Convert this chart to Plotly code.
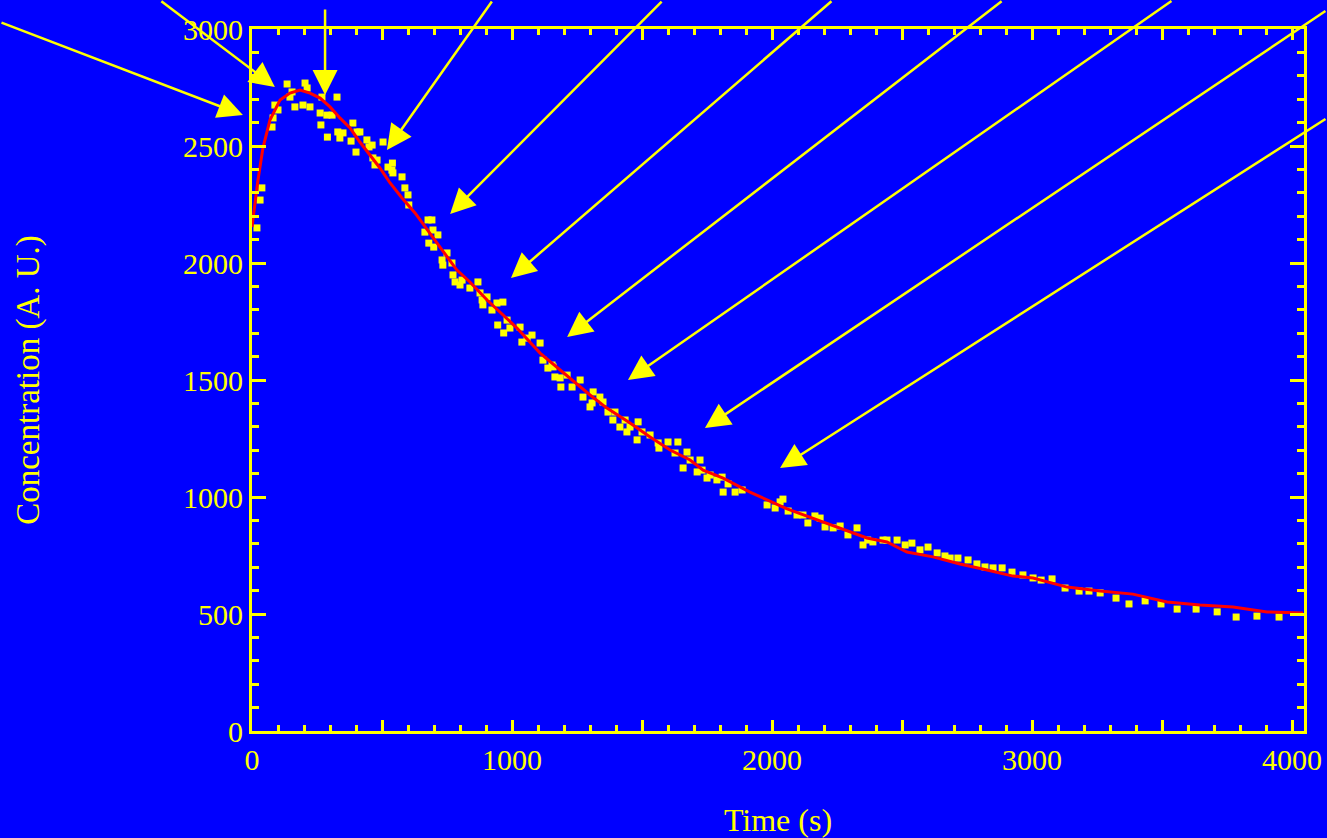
import plotly.graph_objects as go

# Measured points (time s, concentration A.U.)
time_pts = [19, 31, 38, 77, 81, 88, 100, 135, 146, 154, 165, 196, 204, 212, 223, 262, 265, 269,
            288, 290, 308, 327, 330, 338, 350, 381, 388, 400, 404, 415, 442, 450, 462, 465, 473,
            481, 504, 523, 538, 540, 542, 577, 588, 600, 603, 665, 677, 680, 692, 696, 699, 715,
            731, 734, 750, 769, 773, 781, 800, 808, 838, 869, 877, 885, 888, 904, 923, 942, 945,
            965, 968, 981, 992, 1031, 1038, 1058, 1077, 1108, 1119, 1138, 1154, 1158, 1165, 1185,
            1188, 1212, 1231, 1262, 1273, 1300, 1308, 1312, 1338, 1350, 1369, 1388, 1396, 1415,
            1435, 1442, 1454, 1481, 1485, 1500, 1531, 1562, 1565, 1600, 1627, 1638, 1658, 1673,
            1685, 1712, 1723, 1731, 1750, 1762, 1788, 1808, 1812, 1831, 1858, 1885, 1981, 2012,
            2031, 2042, 2062, 2096, 2119, 2138, 2165, 2185, 2204, 2235, 2262, 2292, 2327, 2350,
            2368, 2388, 2427, 2442, 2481, 2512, 2538, 2569, 2600, 2635, 2665, 2685, 2715, 2754,
            2788, 2819, 2850, 2885, 2923, 2965, 3004, 3035, 3077, 3127, 3181, 3219, 3262, 3323,
            3373, 3435, 3496, 3558, 3631, 3712, 3785, 3865, 3950, 4050]
conc_pts = [2150, 2269, 2321, 2581, 2620, 2675, 2654, 2765, 2709, 2731, 2667, 2675, 2769, 2748,
            2667, 2641, 2590, 2709, 2632, 2538, 2632, 2709, 2560, 2534, 2556, 2521, 2598, 2474,
            2560, 2560, 2526, 2496, 2504, 2449, 2419, 2440, 2517, 2410, 2397, 2427, 2385, 2368,
            2321, 2291, 2248, 2132, 2184, 2085, 2184, 2141, 2068, 2120, 2013, 1991, 2043, 2000,
            1949, 1919, 1906, 1927, 1893, 1919, 1872, 1842, 1821, 1855, 1799, 1829, 1735, 1833,
            1701, 1756, 1722, 1726, 1662, 1679, 1692, 1658, 1585, 1551, 1564, 1556, 1513, 1509,
            1470, 1521, 1470, 1500, 1427, 1385, 1402, 1449, 1427, 1406, 1363, 1329, 1363, 1299,
            1329, 1278, 1299, 1244, 1321, 1278, 1265, 1231, 1209, 1235, 1188, 1235, 1124, 1192,
            1158, 1107, 1158, 1115, 1081, 1094, 1073, 1085, 1021, 1056, 1021, 1030, 966, 953,
            979, 991, 940, 923, 923, 889, 919, 910, 872, 868, 876, 838, 868, 795,
            816, 808, 816, 816, 816, 795, 803, 774, 786, 761, 748, 739, 739, 731,
            714, 701, 697, 697, 679, 667, 654, 645, 650, 611, 598, 598, 590, 568,
            543, 556, 543, 521, 521, 509, 487, 491, 487, 487]

# Fitted curve (red)
fit_time = [0, 23, 42, 69, 108, 146, 185, 223, 262, 300, 338, 377, 415, 454, 492, 531, 577, 627,
            646, 723, 788, 838, 904, 954, 1019, 1108, 1185, 1223, 1300, 1365, 1454, 1531, 1608,
            1685, 1735, 1812, 1877, 1915, 2058, 2173, 2262, 2365, 2442, 2519, 2619, 2723, 2827,
            2927, 3004, 3135, 3262, 3388, 3519, 3646, 3773, 3904, 4042]
fit_conc = [2154, 2355, 2491, 2611, 2697, 2726, 2739, 2726, 2705, 2667, 2620, 2577, 2517, 2462,
            2406, 2342, 2278, 2214, 2184, 2068, 1970, 1919, 1842, 1791, 1722, 1615, 1543, 1509,
            1436, 1380, 1316, 1256, 1201, 1158, 1115, 1081, 1043, 1021, 949, 902, 868, 825, 808,
            765, 744, 714, 688, 662, 654, 615, 598, 585, 551, 538, 530, 509, 504]

# Arrow tips (data units) and tail offsets (pixels)
arrow_tip_t = [-35, 88, 281, 519, 762, 996, 1212, 1446, 1742, 2031]
arrow_tip_c = [2632, 2752, 2718, 2483, 2209, 1936, 1684, 1500, 1295, 1124]
arrow_dx = [-243, -115, 0, 106, 213, 322, 436, 545, 622, 547]
arrow_dy = [-93, -87, -87, -150, -214, -278, -337, -380, -418, -350]

x_tickvals = [0, 500, 1000, 1500, 2000, 2500, 3000, 3500, 4000]
x_ticktext = ["0", "", "1000", "", "2000", "", "3000", "", "4000"]
y_tickvals = [0, 500, 1000, 1500, 2000, 2500, 3000]
y_ticktext = ["0", "500", "1000", "1500", "2000", "2500", "3000"]

X_RANGE = [0, 4046]
Y_RANGE = [0, 3000]

YEL = "#ffff00"
BLUE = "#0000ff"
FONT = "Liberation Serif, Times New Roman, serif"

fig = go.Figure()
fig.add_trace(go.Scatter(x=time_pts, y=conc_pts, mode="markers",
                         marker=dict(symbol="square", size=7, color=YEL, line=dict(width=0)),
                         cliponaxis=False, showlegend=False))
fig.add_trace(go.Scatter(x=fit_time, y=fit_conc, mode="lines",
                         line=dict(color="#ff0000", width=3), showlegend=False))

def frac(v, r):
    return (v - r[0]) / (r[1] - r[0])

annotations = []
for t, c, dx, dy in zip(arrow_tip_t, arrow_tip_c, arrow_dx, arrow_dy):
    annotations.append(dict(x=frac(t, X_RANGE), y=frac(c, Y_RANGE), xref="paper", yref="paper",
                            text="", showarrow=True, ax=dx, ay=dy, arrowhead=2,
                            arrowsize=2.0, arrowwidth=2.5, arrowcolor=YEL, standoff=0))

axis_common = dict(showline=True, linecolor=YEL, linewidth=3, mirror="allticks",
                   ticks="inside", tickcolor=YEL, tickwidth=2.5, showgrid=False,
                   zeroline=False, automargin=False,
                   tickfont=dict(family=FONT, size=30, color=YEL))

fig.update_layout(
    width=1327, height=838,
    paper_bgcolor=BLUE, plot_bgcolor=BLUE,
    margin=dict(l=252, r=23, t=29, b=107),
    font=dict(family=FONT, color=YEL),
    xaxis=dict(range=X_RANGE, tickmode="array", tickvals=x_tickvals, ticktext=x_ticktext,
               ticklen=11,
               minor=dict(dtick=100, ticklen=6, tickcolor=YEL, tickwidth=2.5, ticks="inside"),
               title=dict(text="Time (s)", font=dict(family=FONT, size=32, color=YEL), standoff=38),
               **axis_common),
    yaxis=dict(range=Y_RANGE, tickmode="array", tickvals=y_tickvals, ticktext=y_ticktext,
               ticklen=14,
               minor=dict(dtick=100, ticklen=7, tickcolor=YEL, tickwidth=2.5, ticks="inside"),
               title=dict(text="Concentration (A. U.)", font=dict(family=FONT, size=33, color=YEL),
                          standoff=134),
               **axis_common),
    annotations=annotations,
)

fig.write_html(
    "out.html",
    config={"responsive": False, "displayModeBar": False},
    post_script="document.body.style.margin='0';document.body.style.overflow='hidden';"
                "document.body.style.background='#0000ff';",
)
